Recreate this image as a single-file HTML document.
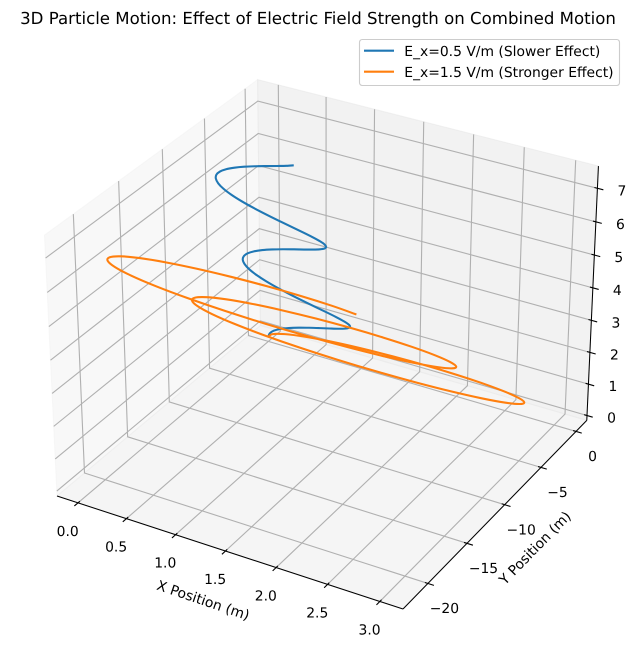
<!DOCTYPE html>
<html>
<head>
<meta charset="utf-8">
<title>3D Particle Motion</title>
<style>
html,body{margin:0;padding:0;background:#fff;}
#chart{display:block;font-family:"DejaVu Sans","Liberation Sans",sans-serif;text-rendering:geometricPrecision;}
text{fill:#000;}
</style>
</head>
<body>
<svg id="chart" xmlns="http://www.w3.org/2000/svg" width="637" height="658" viewBox="0 0 637 658">
  <rect x="0" y="0" width="637" height="658" fill="#fff"/>
  <g id="panes"></g>
  <g id="grid"></g>
  <g id="axes"></g>
  <g id="ticks"></g>
  <g id="labels" font-size="13.89"></g>
  <g id="series" fill="none" stroke-width="2.08" stroke-linejoin="round" stroke-linecap="butt"></g>
  <text x="318" y="24" font-size="16.6" text-anchor="middle">3D Particle Motion: Effect of Electric Field Strength on Combined Motion</text>
  <text x="203" y="601" font-size="13.89" text-anchor="middle" dominant-baseline="central" transform="rotate(18.7 203 601)">X Position (m)</text>
  <text x="535.5" y="548.5" font-size="13.89" text-anchor="middle" dominant-baseline="central" transform="rotate(-45.7 535.5 548.5)">Y Position (m)</text>
  <g>
    <rect x="359.5" y="39.5" width="260" height="46" rx="2.8" ry="2.8" fill="#fff" fill-opacity="0.8" stroke="#ccc" stroke-width="1.1"/>
    <line x1="364" y1="50.7" x2="394" y2="50.7" stroke="#1f77b4" stroke-width="2.08"/>
    <text x="404.3" y="56" font-size="13.89">E_x=0.5 V/m (Slower Effect)</text>
    <line x1="364" y1="71.7" x2="394" y2="71.7" stroke="#ff7f0e" stroke-width="2.08"/>
    <text x="404.3" y="77" font-size="13.89">E_x=1.5 V/m (Stronger Effect)</text>
  </g>
</svg>
<script>
// ---- chart data ----
const xTicks = [0, 0.5, 1, 1.5, 2, 2.5, 3];
const xTickLabels = ["0.0", "0.5", "1.0", "1.5", "2.0", "2.5", "3.0"];
const yTicks = [-20, -15, -10, -5, 0];
const yTickLabels = ["\u221220", "\u221215", "\u221210", "\u22125", "0"];
const zTicks = [0, 1, 2, 3, 4, 5, 6, 7];
const zTickLabels = ["0", "1", "2", "3", "4", "5", "6", "7"];
const xLimits = [-0.219, 3.219];
const yLimits = [-23.09, 1.57];
const zLimits = [-0.156, 7.656];

const slowerX = [0,.016,.061,.134,.230,.342,.465,.589,.708,.814,.901,.962,.995,.997,.968,.910,.827,.723,.605,.481,.358,.244,.146,.069,.020,.000,.012,.054,.123,.216,.327,.448,.573,.693,.801,.890,.956,.992,.999,.974,.920,.839,.738,.621,.498,.374,.258,.157,.078,.025,.001,.008,.046,.112,.203,.311,.432,.556,.677,.788,.880];
const slowerY = [0,-.001,-.010,-.034,-.079,-.151,-.251,-.383,-.545,-.736,-.951,-1.184,-1.429,-1.679,-1.925,-2.161,-2.378,-2.573,-2.739,-2.875,-2.979,-3.054,-3.103,-3.129,-3.140,-3.142,-3.142,-3.150,-3.172,-3.213,-3.281,-3.378,-3.505,-3.664,-3.851,-4.063,-4.294,-4.538,-4.788,-5.035,-5.272,-5.493,-5.690,-5.860,-6.000,-6.109,-6.188,-6.239,-6.268,-6.281,-6.283,-6.284,-6.290,-6.309,-6.348,-6.412,-6.505,-6.628,-6.783,-6.966,-7.175];
const strongerX = [0,.047,.184,.402,.690,1.027,1.394,1.767,2.124,2.442,2.702,2.886,2.985,2.991,2.905,2.731,2.480,2.169,1.816,1.444,1.074,.732,.437,.208,.060,.001,.035,.161,.369,.648,.980,1.344,1.718,2.078,2.403,2.671,2.867,2.977,2.996,2.921,2.759,2.517,2.213,1.864,1.493,1.122,.775,.472,.234,.075,.003,.025,.139,.337,.608,.933,1.295,1.669,2.032,2.365,2.640];
const strongerY = [0,-.004,-.031,-.103,-.238,-.452,-.754,-1.149,-1.636,-2.208,-2.852,-3.552,-4.288,-5.037,-5.776,-6.482,-7.135,-7.718,-8.216,-8.624,-8.938,-9.163,-9.308,-9.387,-9.419,-9.425,-9.427,-9.450,-9.515,-9.640,-9.843,-10.133,-10.516,-10.991,-11.552,-12.188,-12.882,-13.614,-14.363,-15.104,-15.816,-16.478,-17.070,-17.580,-18.000,-18.327,-18.563,-18.718,-18.805,-18.842,-18.849,-18.851,-18.870,-18.928,-19.044,-19.236,-19.514,-19.885,-20.348,-20.899,-21.525];
const sharedZ = [0,.125,.25,.375,.5,.625,.75,.875,1,1.125,1.25,1.375,1.5,1.625,1.75,1.875,2,2.125,2.25,2.375,2.5,2.625,2.75,2.875,3,3.125,3.25,3.375,3.5,3.625,3.75,3.875,4,4.125,4.25,4.375,4.5,4.625,4.75,4.875,5,5.125,5.25,5.375,5.5,5.625,5.75,5.875,6,6.125,6.25,6.375,6.5,6.625,6.75,6.875,7,7.125,7.25,7.375,7.5];

// ---- axis functions (perspective camera: elevation 30, azimuth -60, distance 10) ----
const SVG_NS = "http://www.w3.org/2000/svg";
const BOX = [1.1905, 1.1905, 0.8929];
const U = [0.8660254, 0.5, 0];
const V = [-0.25, 0.4330127, 0.8660254];
const W = [0.4330127, -0.75, 0.5];
const SCALE = 3329, CX = 326.8, CY = 331.6, DIST = 10;
const TICK_OUT = 0.2 / 12, TICK_IN = 0.1 / 12;

function xFrac(x) { return (x - xLimits[0]) / (xLimits[1] - xLimits[0]); }
function yFrac(y) { return (y - yLimits[0]) / (yLimits[1] - yLimits[0]); }
function zFrac(z) { return (z - zLimits[0]) / (zLimits[1] - zLimits[0]); }
function dot(a, b) { return a[0] * b[0] + a[1] * b[1] + a[2] * b[2]; }
function projectFrac(fx, fy, fz) {
  const q = [(fx - 0.5) * BOX[0], (fy - 0.5) * BOX[1], (fz - 0.5) * BOX[2]];
  const d = DIST - dot(W, q);
  return [CX + SCALE * dot(U, q) / d, CY - SCALE * dot(V, q) / d];
}
function project(x, y, z) { return projectFrac(xFrac(x), yFrac(y), zFrac(z)); }
function pts(list) { return list.map(function (p) { return p[0].toFixed(2) + "," + p[1].toFixed(2); }).join(" "); }

function addPolyline(parent, points, color, width) {
  const el = document.createElementNS(SVG_NS, "polyline");
  el.setAttribute("points", pts(points));
  el.setAttribute("fill", "none");
  el.setAttribute("stroke", color);
  el.setAttribute("stroke-width", width);
  parent.appendChild(el);
  return el;
}
function addLabel(parent, pos, str, dx, dy) {
  const el = document.createElementNS(SVG_NS, "text");
  el.setAttribute("x", (pos[0] + dx).toFixed(2));
  el.setAttribute("y", (pos[1] + dy + 5).toFixed(2));
  el.setAttribute("text-anchor", "middle");
  el.textContent = str;
  parent.appendChild(el);
  return el;
}

// panes
const panesG = document.getElementById("panes");
const paneDefs = [
  { name: "left-pane", color: "rgba(242,242,242,0.5)", c: [[0,0,0],[0,1,0],[0,1,1],[0,0,1]] },
  { name: "back-pane", color: "rgba(230,230,230,0.5)", c: [[0,1,0],[1,1,0],[1,1,1],[0,1,1]] },
  { name: "floor-pane", color: "rgba(236,236,236,0.5)", c: [[0,0,0],[1,0,0],[1,1,0],[0,1,0]] }
];
paneDefs.forEach(function (p) {
  const el = document.createElementNS(SVG_NS, "polygon");
  
  
  el.setAttribute("points", pts(p.c.map(function (c) { return projectFrac(c[0], c[1], c[2]); })));
  el.setAttribute("fill", p.color);
  el.setAttribute("stroke", p.color);
  el.setAttribute("stroke-width", "1");
  panesG.appendChild(el);
});

// grid
const gridG = document.getElementById("grid");
const GRID_COLOR = "#b0b0b0", GRID_W = 1.11;
xTicks.forEach(function (t) {
  const f = xFrac(t);
  const el = addPolyline(gridG, [projectFrac(f,0,0), projectFrac(f,1,0), projectFrac(f,1,1)], GRID_COLOR, GRID_W);
  
  
});
yTicks.forEach(function (t) {
  const f = yFrac(t);
  const el = addPolyline(gridG, [projectFrac(1,f,0), projectFrac(0,f,0), projectFrac(0,f,1)], GRID_COLOR, GRID_W);
  
  
});
zTicks.forEach(function (t) {
  const f = zFrac(t);
  const el = addPolyline(gridG, [projectFrac(0,0,f), projectFrac(0,1,f), projectFrac(1,1,f)], GRID_COLOR, GRID_W);
  
  
});

// axis lines
const axesG = document.getElementById("axes");
const xAxisLine = addPolyline(axesG, [projectFrac(0,0,0), projectFrac(1,0,0)], "#000", 1.04);


const yAxisLine = addPolyline(axesG, [projectFrac(1,0,0), projectFrac(1,1,0)], "#000", 1.04);


const zAxisLine = addPolyline(axesG, [projectFrac(1,1,0), projectFrac(1,1,1)], "#000", 1.04);



// ticks + tick labels
const ticksG = document.getElementById("ticks");
const labelsG = document.getElementById("labels");
xTicks.forEach(function (t, i) {
  const f = xFrac(t);
  const tk = addPolyline(ticksG, [projectFrac(f, -TICK_OUT, 0), projectFrac(f, TICK_IN, 0)], "#000", 1.11);
  
  
  const lb = addLabel(labelsG, projectFrac(f, 0, 0), xTickLabels[i], -10.3, 28);
  
  
});
yTicks.forEach(function (t, i) {
  const f = yFrac(t);
  const tk = addPolyline(ticksG, [projectFrac(1 + TICK_OUT, f, 0), projectFrac(1 - TICK_IN, f, 0)], "#000", 1.11);
  
  
  const lb = addLabel(labelsG, projectFrac(1, f, 0), yTickLabels[i], 16.5, 24.6);
  
  
});
zTicks.forEach(function (t, i) {
  const f = zFrac(t);
  const tk = addPolyline(ticksG, [projectFrac(1 + TICK_OUT, 1, f), projectFrac(1 - TICK_IN, 1, f)], "#000", 1.11);
  
  
  const lb = addLabel(labelsG, projectFrac(1, 1, f), zTickLabels[i], 24.5, 2);
  
  
});

// trajectories
function smoothPath(xs, ys, zs) {
  const p = xs.map(function (x, i) { return project(x, ys[i], zs[i]); });
  let d = "M" + p[0][0].toFixed(2) + " " + p[0][1].toFixed(2);
  for (let i = 0; i < p.length - 1; i++) {
    const p0 = p[Math.max(i - 1, 0)], p1 = p[i], p2 = p[i + 1], p3 = p[Math.min(i + 2, p.length - 1)];
    d += "C" + (p1[0] + (p2[0] - p0[0]) / 6).toFixed(2) + " " + (p1[1] + (p2[1] - p0[1]) / 6).toFixed(2) +
         " " + (p2[0] - (p3[0] - p1[0]) / 6).toFixed(2) + " " + (p2[1] - (p3[1] - p1[1]) / 6).toFixed(2) +
         " " + p2[0].toFixed(2) + " " + p2[1].toFixed(2);
  }
  return d;
}
const seriesG = document.getElementById("series");
const slowerLine = document.createElementNS(SVG_NS, "path");


slowerLine.setAttribute("d", smoothPath(slowerX, slowerY, sharedZ));
slowerLine.setAttribute("stroke", "#1f77b4");
seriesG.appendChild(slowerLine);
const strongerLine = document.createElementNS(SVG_NS, "path");


strongerLine.setAttribute("d", smoothPath(strongerX, strongerY, sharedZ));
strongerLine.setAttribute("stroke", "#ff7f0e");
seriesG.appendChild(strongerLine);
</script>
</body>
</html>
